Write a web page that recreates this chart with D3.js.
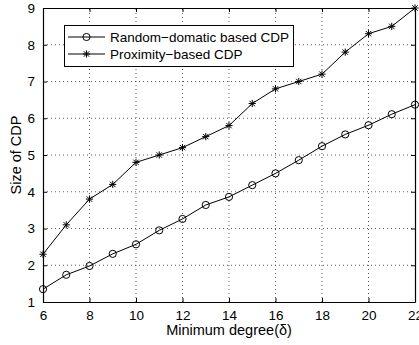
<!DOCTYPE html>
<html lang="en">
<head>
    <meta charset="UTF-8">
    <title>Size of CDP</title>
    <script src="https://d3js.org/d3.v7.min.js"></script>
    <style>
        * {
            margin: 0;
            padding: 0;
        }
        body {
            background-color: white;
            font-family: "Liberation Sans", Arial, Helvetica, sans-serif;
        }
        svg text {
            fill: black;
        }
    </style>
</head>
<body>
<div id="chart"></div>
<script>
const degrees = [6, 7, 8, 9, 10, 11, 12, 13, 14, 15, 16, 17, 18, 19, 20, 21, 22];
const randomDomatic = [1.35, 1.74, 1.98, 2.31, 2.57, 2.95, 3.26, 3.64, 3.86, 4.18, 4.5, 4.86, 5.24, 5.56, 5.81, 6.11, 6.37];
const proximity = [2.3, 3.1, 3.8, 4.2, 4.8, 5.0, 5.2, 5.5, 5.8, 6.4, 6.8, 7.0, 7.2, 7.8, 8.3, 8.5, 9.0];
const xTicks = [6, 8, 10, 12, 14, 16, 18, 20, 22];
const yTicks = [1, 2, 3, 4, 5, 6, 7, 8, 9];
const seriesNames = ["Random\u2212domatic based CDP", "Proximity\u2212based CDP"];

const width = 419, height = 345;
const margin = {top: 8, right: 4, bottom: 43, left: 43};

const svg = d3.select("#chart").append("svg")
    .attr("width", width)
    .attr("height", height)
    .style("display", "block");

const x = d3.scaleLinear().domain([6, 22]).range([margin.left, width - margin.right]);
const y = d3.scaleLinear().domain([1, 9]).range([height - margin.bottom, margin.top]);

// grid (dotted)
const grid = svg.append("g")
    .attr("stroke", "#333")
    .attr("stroke-width", 0.8)
    .attr("stroke-dasharray", "1,3");
grid.selectAll(".gx").data(xTicks.slice(1, -1)).enter().append("line")
    .attr("x1", d => x(d)).attr("x2", d => x(d))
    .attr("y1", y(1)).attr("y2", y(9));
grid.selectAll(".gy").data(yTicks.slice(1, -1)).enter().append("line")
    .attr("x1", x(6)).attr("x2", x(22))
    .attr("y1", d => y(d)).attr("y2", d => y(d));

// axes, ticks inward
svg.append("g")
    .attr("transform", `translate(0,${y(1)})`)
    .call(d3.axisBottom(x).tickValues(xTicks).tickSize(-4).tickPadding(8).tickSizeOuter(0));
svg.append("g")
    .attr("transform", `translate(${x(6)},0)`)
    .call(d3.axisLeft(y).tickValues(yTicks).tickSize(-4).tickPadding(8).tickSizeOuter(0));
svg.append("g")
    .attr("transform", `translate(0,${y(9)})`)
    .call(d3.axisTop(x).tickValues(xTicks).tickSize(-4).tickFormat("").tickSizeOuter(0));
svg.append("g")
    .attr("transform", `translate(${x(22)},0)`)
    .call(d3.axisRight(y).tickValues(yTicks).tickSize(-4).tickFormat("").tickSizeOuter(0));

svg.selectAll(".domain").attr("stroke", "black").attr("stroke-width", 1.2);
svg.selectAll(".tick line").attr("stroke", "black");
svg.selectAll(".tick text")
    .attr("font-family", "'Liberation Sans', Arial, sans-serif")
    .attr("font-size", 13.5)
    .attr("fill", "black");

// lines
const line = d3.line().x((d, i) => x(degrees[i])).y(d => y(d));

svg.append("path").datum(randomDomatic)
    .attr("d", line).attr("fill", "none").attr("stroke", "black").attr("stroke-width", 1);
svg.append("path").datum(proximity)
    .attr("d", line).attr("fill", "none").attr("stroke", "black").attr("stroke-width", 1);

function circleMarker(g, cx, cy) {
    g.append("circle").attr("cx", cx).attr("cy", cy).attr("r", 3.6)
        .attr("fill", "none").attr("stroke", "black").attr("stroke-width", 1);
}
function starMarker(g, cx, cy) {
    const r = 3.6;
    const p = g.append("g").attr("stroke", "black").attr("stroke-width", 1);
    p.append("line").attr("x1", cx - r).attr("x2", cx + r).attr("y1", cy).attr("y2", cy);
    p.append("line").attr("x1", cx).attr("x2", cx).attr("y1", cy - r).attr("y2", cy + r);
    p.append("line").attr("x1", cx - r * 0.75).attr("x2", cx + r * 0.75).attr("y1", cy - r * 0.75).attr("y2", cy + r * 0.75);
    p.append("line").attr("x1", cx - r * 0.75).attr("x2", cx + r * 0.75).attr("y1", cy + r * 0.75).attr("y2", cy - r * 0.75);
}

const marks = svg.append("g");
randomDomatic.forEach((v, i) => circleMarker(marks, x(degrees[i]), y(v)));
proximity.forEach((v, i) => starMarker(marks, x(degrees[i]), y(v)));

// axis titles
svg.append("text")
    .attr("x", (x(6) + x(22)) / 2)
    .attr("y", 335)
    .attr("text-anchor", "middle")
    .attr("font-size", 14.5)
    .text("Minimum degree(\u03b4)");
svg.append("text")
    .attr("transform", `translate(21,${(y(1) + y(9)) / 2}) rotate(-90)`)
    .attr("text-anchor", "middle")
    .attr("font-size", 14.5)
    .text("Size of CDP");

// legend
const legend = svg.append("g");
legend.append("rect")
    .attr("x", 64.5).attr("y", 25.5)
    .attr("width", 229).attr("height", 41)
    .attr("fill", "white").attr("stroke", "black").attr("stroke-width", 1);
const rowY = [37, 54];
seriesNames.forEach((name, i) => {
    legend.append("line")
        .attr("x1", 68).attr("x2", 105)
        .attr("y1", rowY[i]).attr("y2", rowY[i])
        .attr("stroke", "black").attr("stroke-width", 1);
    if (i === 0) circleMarker(legend, 86.5, rowY[i]);
    else starMarker(legend, 86.5, rowY[i]);
    legend.append("text")
        .attr("x", 110)
        .attr("y", rowY[i] + 5)
        .attr("font-size", 13.5)
        .text(name);
});
</script>
</body>
</html>
